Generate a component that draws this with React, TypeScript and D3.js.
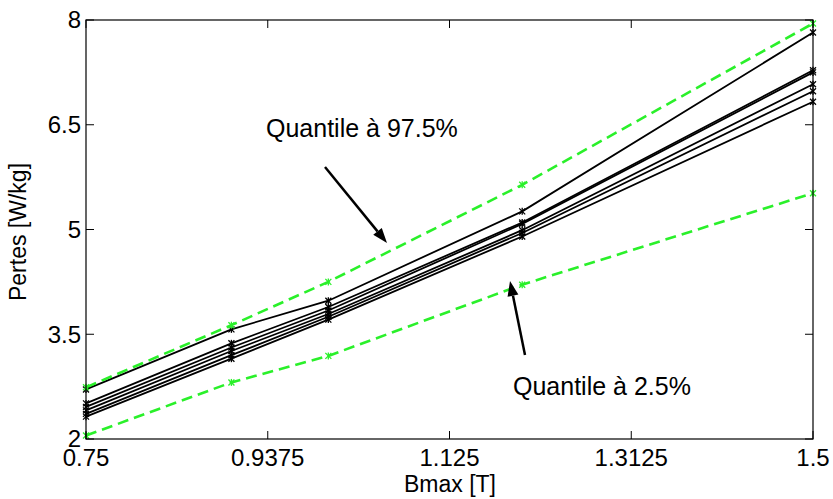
import React from "react";
import * as d3 from "d3";

const bmax = [0.75, 0.9, 1.0, 1.2, 1.5];
const q975 = [2.74, 3.63, 4.25, 5.64, 7.95];
const q025 = [2.05, 2.81, 3.19, 4.21, 5.52];
const run1 = [2.71, 3.57, 3.98, 5.26, 7.82];
const run2 = [2.51, 3.37, 3.89, 5.1, 7.28];
const run3 = [2.46, 3.31, 3.84, 5.08, 7.25];
const run4 = [2.41, 3.26, 3.79, 4.99, 7.08];
const run5 = [2.36, 3.2, 3.75, 4.95, 6.98];
const run6 = [2.32, 3.15, 3.71, 4.9, 6.83];
const blackRuns = [run1, run2, run3, run4, run5, run6];
const xTicks = [0.75, 0.9375, 1.125, 1.3125, 1.5];
const xTickLabels = ["0.75", "0.9375", "1.125", "1.3125", "1.5"];
const yTicks = [2, 3.5, 5, 6.5, 8];
const yTickLabels = ["2", "3.5", "5", "6.5", "8"];

const W = 833;
const H = 499;
const L = 86, R = 813, T = 20, B = 439;
const FONT = "'Liberation Sans', Arial, sans-serif";
const GREEN = "#2af02a";

export default function App() {
  const x = d3.scaleLinear().domain([0.75, 1.5]).range([L, R]);
  const y = d3.scaleLinear().domain([2, 8]).range([B, T]);
  const line = d3.line<number>().x((_, i) => x(bmax[i])).y((d) => y(d));

  const marker = (cx: number, cy: number, color: string, key: string) => (
    <g key={key} stroke={color} strokeWidth={1.3}>
      <line x1={cx - 3} y1={cy - 3} x2={cx + 3} y2={cy + 3} />
      <line x1={cx - 3} y1={cy + 3} x2={cx + 3} y2={cy - 3} />
      <line x1={cx} y1={cy - 3.5} x2={cx} y2={cy + 3.5} />
    </g>
  );

  const arrow = (x1: number, y1: number, x2: number, y2: number) => {
    const ang = Math.atan2(y2 - y1, x2 - x1);
    const len = 15, hw = 5.5;
    const bx = x2 - len * Math.cos(ang), by = y2 - len * Math.sin(ang);
    const px = -Math.sin(ang) * hw, py = Math.cos(ang) * hw;
    return (
      <g>
        <line x1={x1} y1={y1} x2={bx} y2={by} stroke="#000" strokeWidth={2.5} />
        <polygon points={`${x2},${y2} ${bx + px},${by + py} ${bx - px},${by - py}`} fill="#000" />
      </g>
    );
  };

  return (
    <svg width={W} height={H} style={{ position: "absolute", left: 0, top: 0, background: "#fff" }}>
      <rect x={0} y={0} width={W} height={H} fill="#fff" />
      {/* data */}
      {blackRuns.map((r, k) => (
        <g key={"b" + k}>
          <path d={line(r) || ""} fill="none" stroke="#000" strokeWidth={1.8} />
          {r.map((v, i) => marker(x(bmax[i]), y(v), "#000", `bm${k}-${i}`))}
        </g>
      ))}
      {[q975, q025].map((r, k) => (
        <g key={"g" + k}>
          <path d={line(r) || ""} fill="none" stroke={GREEN} strokeWidth={2.6} strokeDasharray="11,6" />
          {r.map((v, i) => marker(x(bmax[i]), y(v), GREEN, `gm${k}-${i}`))}
        </g>
      ))}
      {/* box */}
      <rect x={L} y={T} width={R - L} height={B - T} fill="none" stroke="#000" strokeWidth={1.2} />
      {/* ticks */}
      {xTicks.map((t, i) => (
        <g key={"xt" + i}>
          <line x1={x(t)} x2={x(t)} y1={B} y2={B - 8} stroke="#000" strokeWidth={1} />
          <line x1={x(t)} x2={x(t)} y1={T} y2={T + 8} stroke="#000" strokeWidth={1} />
          <text x={x(t)} y={466} textAnchor="middle" fontFamily={FONT} fontSize={24} fill="#000">
            {xTickLabels[i]}
          </text>
        </g>
      ))}
      {yTicks.map((t, i) => (
        <g key={"yt" + i}>
          <line x1={L} x2={L + 8} y1={y(t)} y2={y(t)} stroke="#000" strokeWidth={1} />
          <line x1={R} x2={R - 8} y1={y(t)} y2={y(t)} stroke="#000" strokeWidth={1} />
          <text x={81} y={y(t) + 8.3} textAnchor="end" fontFamily={FONT} fontSize={24} fill="#000">
            {yTickLabels[i]}
          </text>
        </g>
      ))}
      {/* axis titles */}
      <text x={450} y={492} textAnchor="middle" fontFamily={FONT} fontSize={23} fill="#000">
        Bmax [T]
      </text>
      <text
        transform={`translate(26,232) rotate(-90)`}
        textAnchor="middle"
        fontFamily={FONT}
        fontSize={23}
        fill="#000"
      >
        Pertes [W/kg]
      </text>
      {/* annotations */}
      <text x={266} y={137} fontFamily={FONT} fontSize={25} fill="#000">
        Quantile à 97.5%
      </text>
      {arrow(325, 167, 387, 243)}
      <text x={513} y={395} fontFamily={FONT} fontSize={25} fill="#000">
        Quantile à 2.5%
      </text>
      {arrow(525, 355, 510, 281)}
    </svg>
  );
}
